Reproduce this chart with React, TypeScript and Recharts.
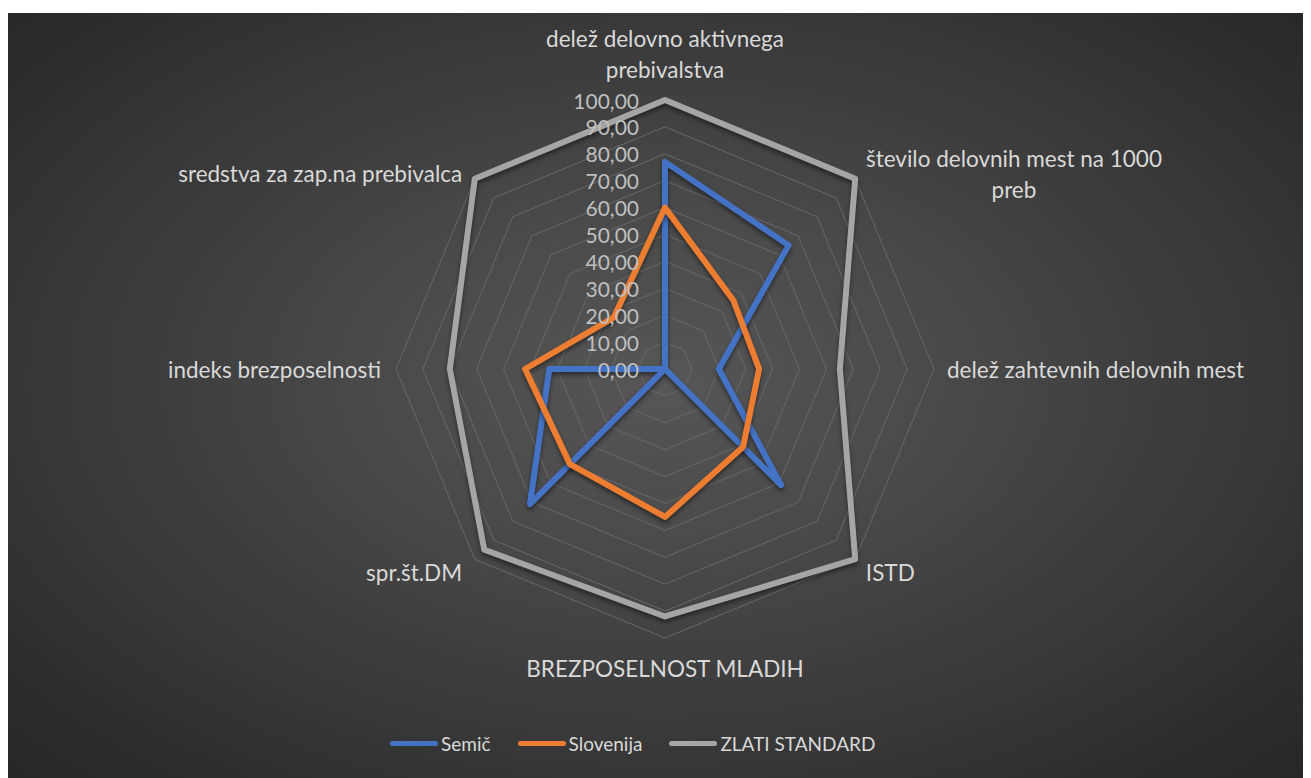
import React from 'react';
import { RadarChart, Radar, PolarGrid, PolarAngleAxis, PolarRadiusAxis } from 'recharts';

const CATEGORIES = [
  'delež delovno aktivnega prebivalstva',
  'število delovnih mest na 1000 preb',
  'delež zahtevnih delovnih mest',
  'ISTD',
  'BREZPOSELNOST MLADIH',
  'spr.št.DM',
  'indeks brezposelnosti',
  'sredstva za zap.na prebivalca',
];
const SEMIC = [77, 65, 20, 61, 0, 71, 43, 0];
const SLOVENIJA = [60, 36, 35, 41, 55, 50, 52, 27];
const ZLATI = [100, 100, 65, 100, 92, 95, 80, 100];
const RADIUS_TICKS = [0, 10, 20, 30, 40, 50, 60, 70, 80, 90, 100];

const SERIES = [
  { key: 'semic', name: 'Semič', color: '#4472C4' },
  { key: 'slovenija', name: 'Slovenija', color: '#ED7D31' },
  { key: 'zlati', name: 'ZLATI STANDARD', color: '#A5A5A5' },
];

const data = CATEGORIES.map((c, i) => ({ cat: c, semic: SEMIC[i], slovenija: SLOVENIJA[i], zlati: ZLATI[i] }));

const FONT = 'Lato, "Open Sans", sans-serif';
const FS = 22.5;
const LABEL = '#d9d9d9';

// word-wrap like Excel does for long category names
const wrap = (s: string, max = 29) => {
  const out: string[] = [];
  let cur = '';
  s.split(' ').forEach((w) => {
    const next = cur ? cur + ' ' + w : w;
    if (next.length > max && cur) { out.push(cur); cur = w; } else cur = next;
  });
  if (cur) out.push(cur);
  return out;
};

const AngleTick = (props: any) => {
  const { x, y, payload } = props;
  const a = (-payload.coordinate * Math.PI) / 180;
  const dx = Math.cos(a), dy = Math.sin(a);
  const lines = wrap(payload.value);
  const lh = 31;
  const common = { fill: LABEL, fontSize: FS, fontFamily: FONT, dominantBaseline: 'central' as const };
  if (Math.abs(dx) < 0.1) {
    const first = dy < 0 ? y - 23 - (lines.length - 1) * lh : y + 22;
    return (
      <text {...common} textAnchor="middle">
        {lines.map((l, i) => <tspan key={i} x={x} y={first + i * lh}>{l}</tspan>)}
      </text>
    );
  }
  const off = dy > 0.3 ? 8 : 0;
  const first = y + off - ((lines.length - 1) * lh) / 2;
  if (lines.length === 1) {
    return (
      <text {...common} x={dx > 0 ? x + 5 : x - 7} y={first} textAnchor={dx > 0 ? 'start' : 'end'}>{lines[0]}</text>
    );
  }
  // rough text width so wrapped lines centre on each other
  const w = Math.max(...lines.map((l) => l.length)) * FS * 0.46;
  const mid = dx > 0 ? x + 3 + w / 2 : x - 7 - w / 2;
  return (
    <text {...common} textAnchor="middle">
      {lines.map((l, i) => <tspan key={i} x={mid} y={first + i * lh}>{l}</tspan>)}
    </text>
  );
};

const RadiusTick = ({ x, y, payload }: any) => (
  <text x={x - 26} y={y} textAnchor="end" dominantBaseline="central" fill="#bfbfbf" fontSize={21} fontFamily={FONT}>
    {Number(payload.value).toFixed(2).replace('.', ',')}
  </text>
);

export default function App() {
  return (
    <div style={{ paddingTop: 5 }}>
      <style>{`.recharts-radar-polygon path { filter: drop-shadow(0px 3px 2px rgba(0,0,0,0.45)); }`}</style>
      <div
        style={{
          position: 'relative',
          width: 1303,
          height: 765,
          background: 'radial-gradient(ellipse farthest-corner at 50% 48%, #565656 0%, #4a4a4a 30%, #262626 100%)',
        }}
      >
        <RadarChart width={1303} height={765} data={data} cx={657} cy={356} outerRadius={269} margin={{ top: 0, right: 0, bottom: 0, left: 0 }}>
          <PolarGrid gridType="polygon" radialLines={false} stroke="#686868" strokeWidth={1} />
          <PolarAngleAxis dataKey="cat" tick={<AngleTick />} axisLine={false} tickLine={false} />
          <PolarRadiusAxis angle={90} domain={[0, 100]} ticks={RADIUS_TICKS as any} tickCount={11} tick={<RadiusTick />} axisLine={false} tickLine={false} />
          {SERIES.map((s) => (
            <Radar
              key={s.key}
              name={s.name}
              dataKey={s.key}
              stroke={s.color}
              strokeWidth={6}
              strokeLinejoin="round"
              fill="none"
              fillOpacity={0}
              dot={false}
              isAnimationActive={false}
            />
          ))}
        </RadarChart>
        <div style={{ position: 'absolute', left: 382, top: 719, display: 'flex', alignItems: 'center', fontFamily: FONT, fontSize: 19, color: LABEL }}>
          {SERIES.map((s) => (
            <div key={s.key} style={{ display: 'flex', alignItems: 'center', marginRight: 27 }}>
              <span style={{ display: 'inline-block', width: 48, height: 5, borderRadius: 3, background: s.color, marginRight: 3 }} />
              <span>{s.name}</span>
            </div>
          ))}
        </div>
      </div>
    </div>
  );
}
